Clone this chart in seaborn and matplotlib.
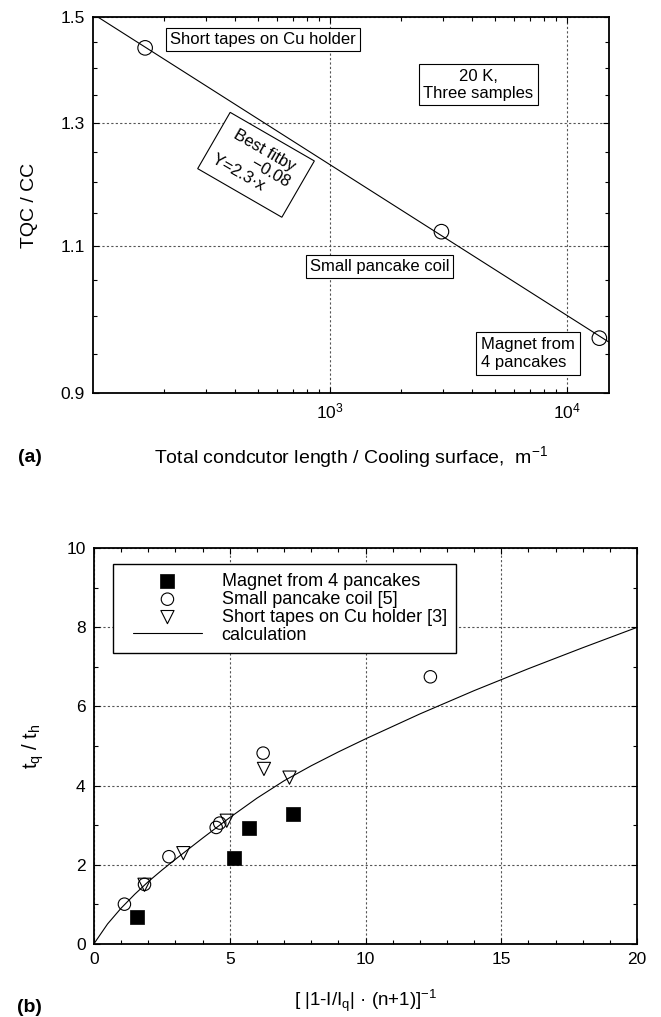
import numpy as np
import pandas as pd
import matplotlib
matplotlib.use("Agg")
import matplotlib.pyplot as plt
import matplotlib.ticker as mticker
import matplotlib.transforms as mtransforms
from matplotlib.patches import Rectangle
from matplotlib.legend_handler import HandlerLine2D
import seaborn as sns

# ---------------- data: panel (a) ----------------
a_labels = ["Short tapes on Cu holder", "Small pancake coil", "Magnet from 4 pancakes"]
a_x = [167, 2960, 13700]
a_y = [1.439, 1.121, 0.970]
fit_x = [106, 15000]
fit_y = [1.500, 0.965]
a_yticks = [0.9, 1.1, 1.3, 1.5]
a_yticklabels = ["0.9", "1.1", "1.3", "1.5"]
a_yminor = [0.95, 1.0, 1.05, 1.15, 1.2, 1.25, 1.35, 1.4, 1.45]
a_xticks = [1e3, 1e4]
a_xticklabels = ["$10^3$", "$10^4$"]

# ---------------- data: panel (b) ----------------
mag_x = [1.57, 5.16, 5.70, 7.33]
mag_y = [0.68, 2.18, 2.92, 3.28]
coil_x = [1.12, 1.86, 2.76, 4.50, 4.63, 6.23, 12.39]
coil_y = [1.00, 1.50, 2.20, 2.94, 3.05, 4.82, 6.75]
tape_x = [1.86, 3.29, 4.89, 6.26, 7.20]
tape_y = [1.49, 2.29, 3.11, 4.42, 4.20]
calc_x = [0, 0.5, 1, 1.5, 2, 2.5, 3, 4, 5, 6, 7, 8, 9, 10, 12, 14, 16, 18, 20]
calc_y = [0, 0.50, 0.90, 1.25, 1.57, 1.86, 2.135, 2.67, 3.19, 3.68, 4.12,
          4.50, 4.85, 5.18, 5.81, 6.40, 6.955, 7.485, 8.0]
b_series = ["Magnet from 4 pancakes", "Small pancake coil [5]",
            "Short tapes on Cu holder [3]", "calculation"]

# ---------------- style ----------------
sns.set_theme(style="ticks")
plt.rcParams["font.family"] = ["Liberation Sans", "DejaVu Sans"]
plt.rcParams.update({
    "mathtext.fontset": "custom",
    "mathtext.rm": "Liberation Sans",
    "mathtext.it": "Liberation Sans:italic",
    "mathtext.bf": "Liberation Sans:bold",
    "axes.edgecolor": "black",
    "axes.linewidth": 1.3,
    "text.color": "black",
    "axes.labelcolor": "black",
    "xtick.color": "black",
    "ytick.color": "black",
})

W, H = 661, 1017
fig = plt.figure(figsize=(W / 100, H / 100), dpi=100)
fig.patch.set_facecolor("white")


def axrect(l, t, r, b):
    return [l / W, 1 - b / H, (r - l) / W, (b - t) / H]


ax1 = fig.add_axes(axrect(93.3, 17.3, 608.7, 393.3))
ax2 = fig.add_axes(axrect(94, 548.3, 637, 943.7))

grid_kw = dict(ls=(0, (2, 2)), color="#555555", lw=0.8)

# ================= panel (a) =================
ax1.set_xscale("log")
ax1.set_yscale("log")
df_fit = pd.DataFrame({"x": fit_x, "y": fit_y})
df_a = pd.DataFrame({"x": a_x, "y": a_y, "label": a_labels})
sns.lineplot(data=df_fit, x="x", y="y", ax=ax1, color="black", lw=0.8,
             estimator=None, sort=False, zorder=2)
sns.scatterplot(data=df_a, x="x", y="y", ax=ax1, marker="o", s=110,
                color="none", edgecolor="black", linewidth=0.8, zorder=3)
ax1.set_xlim(101, 15000)
ax1.set_ylim(0.9, 1.5)
ax1.xaxis.set_major_locator(mticker.FixedLocator(a_xticks))
ax1.xaxis.set_major_formatter(mticker.FixedFormatter(a_xticklabels))
ax1.xaxis.set_minor_locator(mticker.LogLocator(base=10, subs=np.arange(2, 10), numticks=30))
ax1.xaxis.set_minor_formatter(mticker.NullFormatter())
ax1.yaxis.set_major_locator(mticker.FixedLocator(a_yticks))
ax1.yaxis.set_major_formatter(mticker.FixedFormatter(a_yticklabels))
ax1.yaxis.set_minor_locator(mticker.FixedLocator(a_yminor))
ax1.yaxis.set_minor_formatter(mticker.NullFormatter())
ax1.grid(True, which="major", **grid_kw)
ax1.grid(False, which="minor")

ax1.set_xlabel("Total condcutor length / Cooling surface,  m$^{-1}$",
               fontsize=14, va="center")
ax1.xaxis.set_label_coords(0.5, -0.169)
ax1.set_ylabel("TQC / CC", fontsize=14, va="center")
ax1.yaxis.set_label_coords(-0.123, 0.5)

bbox = dict(boxstyle="square,pad=0.25", fc="white", ec="black", lw=0.8)
tkw = dict(transform=ax1.transAxes, ha="center", va="center", fontsize=12, zorder=5)
ax1.text(0.3293, 0.9404, "Short tapes on Cu holder", bbox=bbox, **tkw)
ax1.text(0.7474, 0.8207, "20 K,\nThree samples", multialignment="center", bbox=bbox, **tkw)
ax1.text(0.5553, 0.3372, "Small pancake coil", bbox=bbox, **tkw)
ax1.text(0.8434, 0.1059, "Magnet from\n4 pancakes", multialignment="left",
         bbox=dict(boxstyle="square,pad=0.3", fc="white", ec="black", lw=0.8), **tkw)

# rotated fit label
fx, fy = 0.3157, 0.6077
ax1.text(fx, fy, "Best fitby\n       \u22120.08\nY=2.3\u00b7x     ", transform=ax1.transAxes,
         ha="center", va="center", rotation=-30, rotation_mode="anchor",
         multialignment="center", fontsize=12, zorder=6, linespacing=1.1)
cx, cy = ax1.transAxes.transform((fx, fy))
rect = Rectangle((-48.6, -32.5), 97.2, 65, fill=True, fc="white", ec="black", lw=0.8,
                 transform=mtransforms.Affine2D().rotate_deg(-30).translate(cx, cy),
                 zorder=5, clip_on=False)
ax1.add_artist(rect)

# ================= panel (b) =================
df_mag = pd.DataFrame({"x": mag_x, "y": mag_y})
df_coil = pd.DataFrame({"x": coil_x, "y": coil_y})
df_tape = pd.DataFrame({"x": tape_x, "y": tape_y})
df_calc = pd.DataFrame({"x": calc_x, "y": calc_y})

sns.scatterplot(data=df_mag, x="x", y="y", ax=ax2, marker="s", s=95, color="black",
                edgecolor="black", linewidth=0.5, label=b_series[0], zorder=4)
sns.scatterplot(data=df_coil, x="x", y="y", ax=ax2, marker="o", s=80, color="none",
                edgecolor="black", linewidth=0.8, label=b_series[1], zorder=4)
sns.scatterplot(data=df_tape, x="x", y="y", ax=ax2, marker="v", s=90, color="none",
                edgecolor="black", linewidth=0.8, label=b_series[2], zorder=4)
sns.lineplot(data=df_calc, x="x", y="y", ax=ax2, color="black", lw=0.8,
             estimator=None, sort=False, label=b_series[3], zorder=3)

ax2.set_xlim(0, 20)
ax2.set_ylim(0, 10)
ax2.xaxis.set_major_locator(mticker.MultipleLocator(5))
ax2.xaxis.set_minor_locator(mticker.MultipleLocator(1))
ax2.yaxis.set_major_locator(mticker.MultipleLocator(2))
ax2.yaxis.set_minor_locator(mticker.MultipleLocator(1))
ax2.grid(True, which="major", **grid_kw)
ax2.grid(False, which="minor")

ax2.set_xlabel("[ |1-I/I$_\\mathrm{q}$| \u00b7 (n+1)]$^{-1}$", fontsize=13.5, va="center")
ax2.xaxis.set_label_coords(0.5, -0.145)
ax2.set_ylabel("t$_\\mathrm{q}$ / t$_\\mathrm{h}$", fontsize=14.5, va="center")
ax2.yaxis.set_label_coords(-0.112, 0.5)

handles, labels = ax2.get_legend_handles_labels()
hd = dict(zip(labels, handles))
hs = [hd[k] for k in b_series]
leg = ax2.legend(hs, b_series, loc="upper left", bbox_to_anchor=(0.0355, 0.9603),
                 borderaxespad=0, fontsize=13, frameon=True, fancybox=False,
                 edgecolor="black", framealpha=1, borderpad=0.5, handlelength=5.0,
                 handletextpad=0.5, labelspacing=0.05, scatterpoints=1,
                 handler_map={hd[b_series[3]]: HandlerLine2D(numpoints=2, marker_pad=0.6)})
leg.get_frame().set_linewidth(1.0)
leg.set_zorder(10)

for ax in (ax1, ax2):
    ax.tick_params(which="both", direction="in", top=True, right=True,
                   labelsize=12.5, pad=6, width=0.8)
    ax.tick_params(which="major", length=4)
    ax.tick_params(which="minor", length=3)
    for sp in ax.spines.values():
        sp.set_linewidth(1.3)
        sp.set_color("black")
        sp.set_zorder(8)

fig.text(29.5 / W, 1 - 457 / H, "(a)", fontsize=14, fontweight="bold", ha="center", va="center")
fig.text(29.5 / W, 1 - 1007 / H, "(b)", fontsize=14, fontweight="bold", ha="center", va="center")

fig.savefig("out.png", dpi=100, facecolor="white")
